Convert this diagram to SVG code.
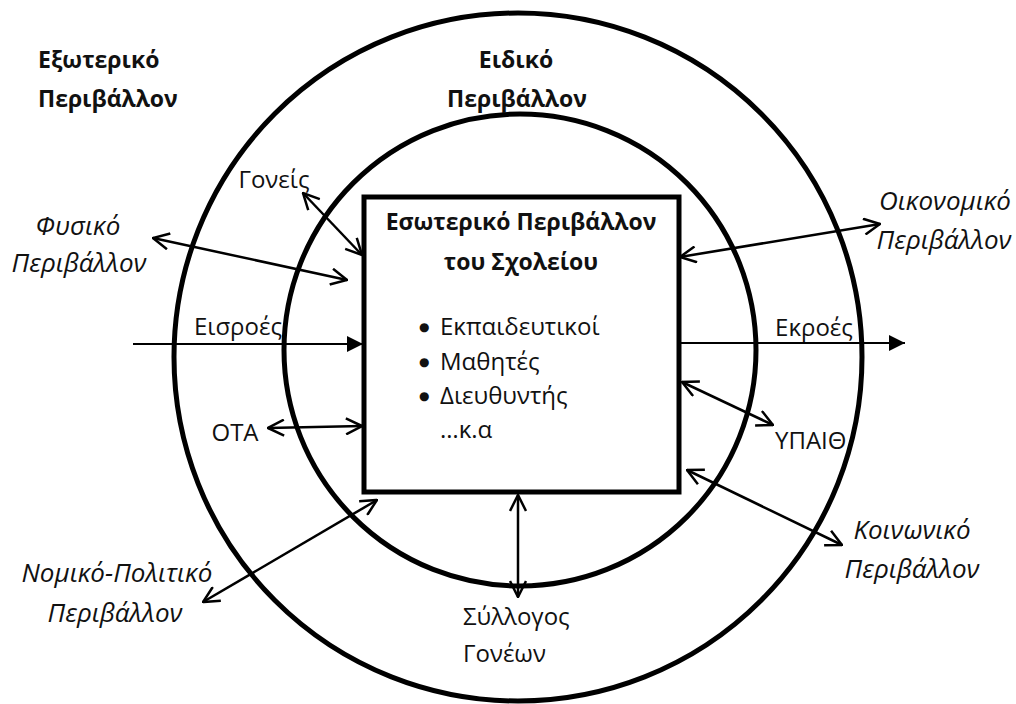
<svg xmlns="http://www.w3.org/2000/svg" width="1016" height="704" viewBox="0 0 1016 704">
<defs>
<style>
text{font-family:"Open Sans","Noto Sans","DejaVu Sans",sans-serif;fill:#111;}
.b{font-weight:bold;}
.tl{font-size:23px;}
.bt{font-size:23px;}
.r{font-size:24px;}
.dot{font-family:"DejaVu Sans",sans-serif;font-size:12px;}
.i{font-size:26px;font-style:italic;}
.ring{fill:none;stroke:#000;stroke-width:5;}
.box{fill:none;stroke:#000;stroke-width:5;}
.arr{stroke:#000;stroke-width:2.5;fill:none;marker-start:url(#v);marker-end:url(#v);}
.flow{stroke:#000;stroke-width:2;fill:none;marker-end:url(#tri);}
</style>
<marker id="v" viewBox="0 0 18 18" refX="17" refY="9" markerWidth="18" markerHeight="18" markerUnits="userSpaceOnUse" orient="auto-start-reverse">
<path d="M1,1 L17,9 L1,17" fill="none" stroke="#000" stroke-width="2.5"/>
</marker>
<marker id="tri" viewBox="0 0 16 16" refX="16" refY="8" markerWidth="16" markerHeight="16" markerUnits="userSpaceOnUse" orient="auto">
<path d="M0,0 L16,8 L0,16 Z" fill="#000"/>
</marker>
</defs>
<g id="outer-ring"><circle class="ring" cx="518" cy="357" r="344"/></g>
<g id="inner-ring"><circle class="ring" cx="520" cy="350" r="236"/></g>
<g id="connectors">
<line class="flow" x1="133" y1="344" x2="363" y2="344"/>
<line class="flow" x1="680" y1="343" x2="905" y2="343"/>
<line class="arr" x1="303" y1="193" x2="362" y2="255"/>
<line class="arr" x1="153" y1="238" x2="347" y2="280"/>
<line class="arr" x1="268" y1="428" x2="362" y2="426"/>
<line class="arr" x1="680" y1="257" x2="880" y2="224"/>
<line class="arr" x1="682" y1="382" x2="773" y2="425"/>
<line class="arr" x1="687" y1="470" x2="842" y2="545"/>
<line class="arr" x1="377" y1="500" x2="203" y2="602"/>
<line class="arr" x1="518" y1="495" x2="518" y2="597"/>
</g>
<g id="school-box">
<rect class="box" x="364" y="197" width="315" height="295"/>
<text class="b bt" x="521" y="230" text-anchor="middle">Εσωτερικό Περιβάλλον</text>
<text class="b bt" x="521" y="270" text-anchor="middle">του Σχολείου</text>
<text class="r" y="335"><tspan class="dot" x="419" dy="-4">●</tspan><tspan x="440" dy="4">Εκπαιδευτικοί</tspan></text>
<text class="r" y="370"><tspan class="dot" x="419" dy="-4">●</tspan><tspan x="440" dy="4">Μαθητές</tspan></text>
<text class="r" y="404"><tspan class="dot" x="419" dy="-4">●</tspan><tspan x="440" dy="4">Διευθυντής</tspan></text>
<text class="r" x="440" y="438">…κ.α</text>
</g>
<g id="external-label"><text class="b tl" x="38" y="68">Εξωτερικό</text><text class="b tl" x="38" y="107">Περιβάλλον</text></g>
<g id="specific-label"><text class="b tl" x="516" y="68" text-anchor="middle">Ειδικό</text><text class="b tl" x="517" y="107" text-anchor="middle">Περιβάλλον</text></g>
<g id="goneis"><text class="r" x="274" y="188" text-anchor="middle">Γονείς</text></g>
<g id="fysiko"><text class="i" x="78" y="235" text-anchor="middle">Φυσικό</text><text class="i" x="79" y="272" text-anchor="middle">Περιβάλλον</text></g>
<g id="oikonomiko"><text class="i" x="945" y="210" text-anchor="middle">Οικονομικό</text><text class="i" x="944" y="249" text-anchor="middle">Περιβάλλον</text></g>
<g id="eisroes"><text class="r" x="238" y="335" text-anchor="middle">Εισροές</text></g>
<g id="ota"><text class="r" x="235" y="441" text-anchor="middle">ΟΤΑ</text></g>
<g id="ekroes"><text class="r" x="814" y="336" text-anchor="middle">Εκροές</text></g>
<g id="ypaith"><text class="r" x="775" y="449">ΥΠΑΙΘ</text></g>
<g id="koinoniko"><text class="i" x="912" y="539" text-anchor="middle">Κοινωνικό</text><text class="i" x="912" y="578" text-anchor="middle">Περιβάλλον</text></g>
<g id="nomiko"><text class="i" x="117" y="582" text-anchor="middle">Νομικό-Πολιτικό</text><text class="i" x="115" y="622" text-anchor="middle">Περιβάλλον</text></g>
<g id="syllogos"><text class="r" x="463" y="625">Σύλλογος</text><text class="r" x="463" y="662">Γονέων</text></g>
</svg>
